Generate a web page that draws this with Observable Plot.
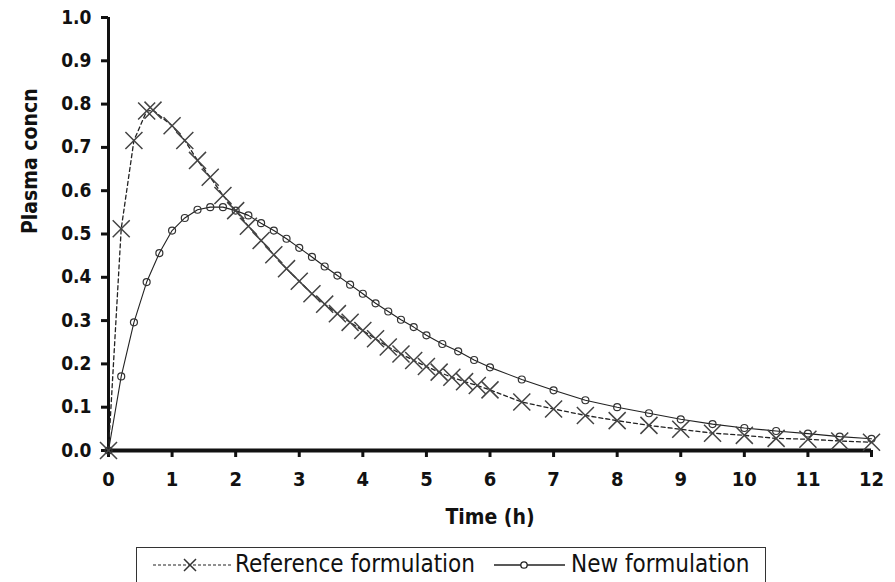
<!DOCTYPE html>
<html><head><meta charset="utf-8">
<script src="https://cdn.jsdelivr.net/npm/d3@7"></script>
<script src="https://cdn.jsdelivr.net/npm/@observablehq/plot@0.6"></script>
<style>
body{margin:0;background:#fff;}
#wrap{position:relative;width:895px;height:582px;overflow:hidden;font-family:"Liberation Sans Narrow","DejaVu Sans Condensed","Roboto",sans-serif;color:#111;}
#legend{position:absolute;left:136px;top:547px;width:630px;height:36px;border:1.5px solid #333;box-sizing:border-box;font-size:24px;white-space:nowrap;}
#legend > *{position:absolute;}
#legend span{top:1px;line-height:30px;}
</style></head><body>
<div id="wrap"><div id="chart"></div>
<div id="legend">
<svg style="left:12px;top:2px" width="86" height="30"><line x1="4" y1="15" x2="84" y2="15" stroke="#222" stroke-width="1.2" stroke-dasharray="3,2"/><path d="M35,9L47,21M47,9L35,21" stroke="#333" stroke-width="1.5"/></svg>
<span style="left:98px">Reference formulation</span>
<svg style="left:354px;top:2px" width="78" height="30"><line x1="3" y1="15" x2="74" y2="15" stroke="#222" stroke-width="1.3"/><circle cx="33" cy="15" r="3.2" fill="#fff" stroke="#222" stroke-width="1.3"/></svg>
<span style="left:434px">New formulation</span>
</div></div>
<script>
const refTime = [0,0.2,0.4,0.6,0.7,1.0,1.2,1.4,1.6,1.8,2.0,2.2,2.4,2.6,2.8,3.0,3.2,3.4,3.6,3.8,4.0,4.2,4.4,4.6,4.8,5.0,5.2,5.4,5.6,5.8,6.0,6.5,7.0,7.5,8.0,8.5,9.0,9.5,10,10.5,11,11.5,12];
const refConc = [0,0.512,0.716,0.784,0.786,0.75,0.716,0.67,0.631,0.589,0.554,0.518,0.485,0.452,0.42,0.391,0.362,0.338,0.316,0.296,0.277,0.258,0.239,0.223,0.208,0.194,0.181,0.169,0.159,0.15,0.14,0.112,0.096,0.081,0.069,0.058,0.049,0.04,0.035,0.028,0.026,0.022,0.019];
const newTime = [0,0.2,0.4,0.6,0.8,1.0,1.2,1.4,1.6,1.8,2.0,2.2,2.4,2.6,2.8,3.0,3.2,3.4,3.6,3.8,4.0,4.2,4.4,4.6,4.8,5.0,5.25,5.5,5.75,6.0,6.5,7.0,7.5,8.0,8.5,9.0,9.5,10,10.5,11,11.5,12];
const newConc = [0,0.171,0.296,0.389,0.456,0.508,0.537,0.556,0.562,0.562,0.554,0.543,0.525,0.508,0.489,0.468,0.447,0.425,0.404,0.383,0.362,0.340,0.321,0.302,0.285,0.266,0.246,0.229,0.209,0.192,0.164,0.139,0.116,0.100,0.086,0.072,0.061,0.052,0.045,0.039,0.032,0.027];
const xTicks = [0,1,2,3,4,5,6,7,8,9,10,11,12];
const yTicks = [0,0.1,0.2,0.3,0.4,0.5,0.6,0.7,0.8,0.9,1.0];
const xLabel = "Time (h)";
const yLabel = "Plasma concn";

const ref = refTime.map((t,i)=>({t, c: refConc[i]}));
const nw = newTime.map((t,i)=>({t, c: newConc[i]}));
const font = '"Liberation Sans Narrow","DejaVu Sans Condensed","Roboto",sans-serif';

const chart = Plot.plot({
  width: 895, height: 540,
  marginLeft: 108, marginRight: 24, marginTop: 17, marginBottom: 90,
  x: {domain: [0, 12]},
  y: {domain: [0, 1]},
  style: {fontFamily: font, fontSize: "19px", color: "#111", background: "transparent", overflow: "visible"},
  marks: [
    Plot.axisY({ticks: yTicks, tickFormat: d => d.toFixed(1), tickSize: 7, tickPadding: 10, strokeWidth: 3, fontWeight: "bold", label: null}),
    Plot.axisX({ticks: xTicks, tickSize: 7, tickPadding: 14, strokeWidth: 3, fontWeight: "bold", fontSize: 20, label: null}),
    Plot.text([yLabel], {frameAnchor: "left", rotate: -90, dx: -78, fontSize: 21, fontWeight: "bold", fill: "#111"}),
    Plot.text([xLabel], {frameAnchor: "bottom", dy: 73, fontSize: 21, fontWeight: "bold", fill: "#111"}),
    Plot.ruleX([0], {stroke: "#111", strokeWidth: 3}),
    Plot.ruleY([0], {stroke: "#111", strokeWidth: 4}),
    Plot.line(nw, {x: "t", y: "c", stroke: "#222", strokeWidth: 1.1}),
    Plot.line(ref, {x: "t", y: "c", stroke: "#222", strokeWidth: 1.3, strokeDasharray: "4,3"}),
    Plot.dot(nw, {x: "t", y: "c", r: 3.5, stroke: "#333", strokeWidth: 1.2, fill: "none"}),
    Plot.dot(ref, {x: "t", y: "c", symbol: "times", r: 7.8, stroke: "#444", strokeWidth: 1.5})
  ]
});
document.getElementById("chart").appendChild(chart);
</script>
</body></html>
